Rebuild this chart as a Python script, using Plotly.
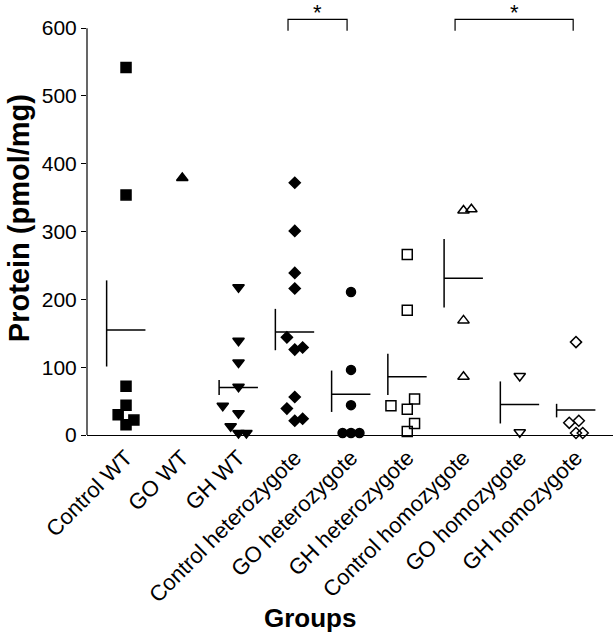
import plotly.graph_objects as go

groups = ["Control WT", "GO WT", "GH WT", "Control heterozygote", "GO heterozygote",
          "GH heterozygote", "Control homozygote", "GO homozygote", "GH homozygote"]

values = [
    [542, 354, 72, 44, 30, 22, 15],
    [379],
    [218, 139, 107, 71, 43, 32, 13, 3, 3],
    [372, 301, 239, 216, 144, 126, 129, 56, 39, 21, 24],
    [211, 96, 44, 3, 3, 3],
    [266, 184, 53, 43, 38, 17, 5],
    [331, 333, 169, 86],
    [87, 4],
    [137, 18, 21, 3, 3],
]

# horizontal spread of overlapping points (in category units)
jitter = [
    [0, 0, 0, 0, -0.14, 0.14, 0],
    [0],
    [0, 0, 0, 0, -0.28, 0, -0.14, 0, 0.14],
    [0, 0, 0, 0, -0.14, 0, 0.14, 0, -0.14, 0, 0.14],
    [0, 0, 0, -0.15, 0, 0.15],
    [0, 0, 0.13, -0.29, 0, 0.13, 0],
    [0, 0.14, 0, 0],
    [0, 0],
    [0, -0.12, 0.05, 0, 0.12],
]

means = [155, None, 70, 152, 60, 86, 231, 45, 37]
err_hi = [228, None, 81, 186, 95, 120, 289, 79, 46]
err_lo = [101, None, 59, 125, 34, 59, 188, 17, 26]

symbols = ["square", "triangle-up", "triangle-down", "diamond", "circle",
           "square-open", "triangle-up-open", "triangle-down-open", "diamond-open"]
sizes = [10, 10, 10, 8.5, 9, 10, 10, 10, 8.5]

# significance brackets: (x start, x end)
brackets = [(2.88, 3.93), (5.85, 7.95)]

FONT = "Liberation Sans, Arial, sans-serif"
half = 0.345

fig = go.Figure()
for i, g in enumerate(groups):
    fig.add_trace(go.Scatter(
        x=[i + j for j in jitter[i]], y=values[i], mode="markers", name=g,
        marker=dict(symbol=symbols[i], size=sizes[i], color="black",
                    line=dict(color="black", width=1.5)),
        cliponaxis=False, showlegend=False,
    ))
    if means[i] is not None:
        fig.add_trace(go.Scatter(
            x=[i - half, i + half, None, i - half, i - half],
            y=[means[i], means[i], None, err_lo[i], err_hi[i]],
            mode="lines", line=dict(color="black", width=1.5),
            showlegend=False, hoverinfo="skip",
        ))

for x0, x1 in brackets:
    fig.add_trace(go.Scatter(
        x=[x0, x0, x1, x1], y=[596, 613, 613, 596], mode="lines",
        line=dict(color="black", width=1.2), showlegend=False, hoverinfo="skip",
    ))
    fig.add_annotation(x=(x0 + x1) / 2, xref="x", y=1.006, yref="paper",
                       xanchor="center", yanchor="top", text="*", showarrow=False,
                       font=dict(size=22, color="black", family=FONT))

# y axis line only up to 600
fig.add_shape(type="line", xref="paper", x0=0, x1=0, yref="y", y0=0, y1=600,
              line=dict(color="black", width=1.2))

fig.add_annotation(text="<b>Protein (pmol/mg)</b>", xref="paper", yref="paper",
                   x=-0.129, y=0.5, xanchor="center", yanchor="middle",
                   textangle=-90, showarrow=False,
                   font=dict(size=29, color="black", family=FONT))
fig.add_annotation(text="<b>Groups</b>", xref="paper", yref="paper",
                   x=0.424, y=-0.46, xanchor="center", yanchor="bottom",
                   showarrow=False, font=dict(size=26, color="black", family=FONT))

fig.update_layout(
    width=614, height=638,
    margin=dict(l=87, r=1, t=1, b=203),
    plot_bgcolor="white", paper_bgcolor="white",
    font=dict(family=FONT, color="black"),
    xaxis=dict(
        range=[-0.694, 8.658], tickvals=list(range(len(groups))), ticktext=groups,
        tickangle=-45, tickfont=dict(size=22), showline=True, linecolor="black",
        linewidth=1.2, ticks="", showgrid=False, zeroline=False, automargin=False,
    ),
    yaxis=dict(
        range=[0, 640], tickvals=[0, 100, 200, 300, 400, 500, 600],
        ticks="outside", ticklen=5, tickcolor="black", tickwidth=1.2,
        tickfont=dict(size=21), showline=False, showgrid=False, zeroline=False,
        automargin=False,
    ),
)

# drop the page's default body margin so the figure sits at the window corner
fig.write_html("out.html", config={"displayModeBar": False},
               post_script="document.body.style.margin='0';")
